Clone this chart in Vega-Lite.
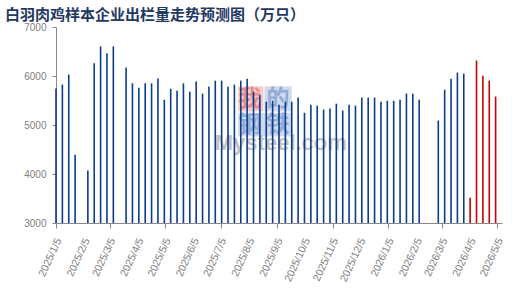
{
  "$schema": "https://vega.github.io/schema/vega-lite/v6.json",
  "width": 446,
  "height": 196,
  "autosize": {"type": "none"},
  "padding": {"left": 56, "top": 27, "right": 20, "bottom": 73},
  "background": "white",
  "config": {"view": {"stroke": null}},
  "title": {
    "text": "白羽肉鸡样本企业出栏量走势预测图（万只）",
    "anchor": "start",
    "frame": "group",
    "font": "Noto Sans CJK SC",
    "fontSize": 15,
    "fontWeight": "bold",
    "color": "#1f3864",
    "dx": -51,
    "offset": -1
  },
  "layer": [
    {
      "data": {"values": [{"x1": "2025-07-24", "x2": "2025-08-21", "y1": 5788, "y2": 5278}]},
      "mark": {"type": "rect", "fill": "#f5cccc", "fillOpacity": 1},
      "encoding": {
        "x": {"field": "x1", "type": "temporal"},
        "x2": {"field": "x2"},
        "y": {"field": "y1", "type": "quantitative"},
        "y2": {"field": "y2"}
      }
    },
    {
      "data": {"values": [{"x1": "2025-08-22", "x2": "2025-09-21", "y1": 5788, "y2": 5278}, {"x1": "2025-07-24", "x2": "2025-09-21", "y1": 5251, "y2": 4767}]},
      "mark": {"type": "rect", "fill": "#cfdaee", "fillOpacity": 1},
      "encoding": {
        "x": {"field": "x1", "type": "temporal"},
        "x2": {"field": "x2"},
        "y": {"field": "y1", "type": "quantitative"},
        "y2": {"field": "y2"}
      }
    },
    {
      "data": {"values": [{"d": "2025-08-06", "v": 5537, "label": "我"}]},
      "mark": {"type": "text", "font": "Noto Sans CJK SC", "fontSize": 23, "fontWeight": "bold", "color": "#e06060", "opacity": 0.6, "align": "center", "baseline": "middle"},
      "encoding": {
        "x": {"field": "d", "type": "temporal"},
        "y": {"field": "v", "type": "quantitative"},
        "text": {"field": "label"}
      }
    },
    {
      "data": {"values": [{"d": "2025-09-06", "v": 5537, "label": "的"}, {"d": "2025-08-06", "v": 5006, "label": "钢"}, {"d": "2025-09-06", "v": 5006, "label": "铁"}]},
      "mark": {"type": "text", "font": "Noto Sans CJK SC", "fontSize": 23, "fontWeight": "bold", "color": "#6a8cc8", "opacity": 0.6, "align": "center", "baseline": "middle"},
      "encoding": {
        "x": {"field": "d", "type": "temporal"},
        "y": {"field": "v", "type": "quantitative"},
        "text": {"field": "label"}
      }
    },
    {
      "data": {"values": [{"d": "2025-09-09", "v": 4640, "label": "Mysteel.com"}]},
      "mark": {"type": "text", "font": "Liberation Sans", "fontSize": 22, "fontWeight": "bold", "color": "#c2c2c2", "align": "center", "baseline": "middle"},
      "encoding": {
        "x": {"field": "d", "type": "temporal"},
        "y": {"field": "v", "type": "quantitative"},
        "text": {"field": "label"}
      }
    },
    {
      "data": {"values": [
        {"date": "2025-01-05", "label": "2025/1/5"},
        {"date": "2025-02-05", "label": "2025/2/5"},
        {"date": "2025-03-05", "label": "2025/3/5"},
        {"date": "2025-04-05", "label": "2025/4/5"},
        {"date": "2025-05-05", "label": "2025/5/5"},
        {"date": "2025-06-05", "label": "2025/6/5"},
        {"date": "2025-07-05", "label": "2025/7/5"},
        {"date": "2025-08-05", "label": "2025/8/5"},
        {"date": "2025-09-05", "label": "2025/9/5"},
        {"date": "2025-10-05", "label": "2025/10/5"},
        {"date": "2025-11-05", "label": "2025/11/5"},
        {"date": "2025-12-05", "label": "2025/12/5"},
        {"date": "2026-01-05", "label": "2026/1/5"},
        {"date": "2026-02-05", "label": "2026/2/5"},
        {"date": "2026-03-05", "label": "2026/3/5"},
        {"date": "2026-04-05", "label": "2026/4/5"},
        {"date": "2026-05-05", "label": "2026/5/5"}
      ]},
      "mark": {"type": "text", "angle": 295, "align": "right", "baseline": "middle", "font": "Liberation Sans", "fontSize": 10.5, "color": "#808080", "xOffset": 3, "yOffset": 16},
      "encoding": {
        "x": {"field": "date", "type": "temporal"},
        "y": {"datum": 3000, "type": "quantitative"},
        "text": {"field": "label"}
      }
    },
    {
      "data": {"values": [
        {"date": "2025-01-05", "value": 5745, "type": "实际"},
        {"date": "2025-01-12", "value": 5825, "type": "实际"},
        {"date": "2025-01-19", "value": 6030, "type": "实际"},
        {"date": "2025-01-26", "value": 4395, "type": "实际"},
        {"date": "2025-02-09", "value": 4070, "type": "实际"},
        {"date": "2025-02-16", "value": 6260, "type": "实际"},
        {"date": "2025-02-23", "value": 6605, "type": "实际"},
        {"date": "2025-03-02", "value": 6465, "type": "实际"},
        {"date": "2025-03-09", "value": 6605, "type": "实际"},
        {"date": "2025-03-23", "value": 6175, "type": "实际"},
        {"date": "2025-03-30", "value": 5850, "type": "实际"},
        {"date": "2025-04-06", "value": 5760, "type": "实际"},
        {"date": "2025-04-13", "value": 5850, "type": "实际"},
        {"date": "2025-04-20", "value": 5850, "type": "实际"},
        {"date": "2025-04-27", "value": 5950, "type": "实际"},
        {"date": "2025-05-04", "value": 5515, "type": "实际"},
        {"date": "2025-05-11", "value": 5740, "type": "实际"},
        {"date": "2025-05-18", "value": 5700, "type": "实际"},
        {"date": "2025-05-25", "value": 5850, "type": "实际"},
        {"date": "2025-06-01", "value": 5680, "type": "实际"},
        {"date": "2025-06-08", "value": 5890, "type": "实际"},
        {"date": "2025-06-15", "value": 5640, "type": "实际"},
        {"date": "2025-06-22", "value": 5785, "type": "实际"},
        {"date": "2025-06-29", "value": 5905, "type": "实际"},
        {"date": "2025-07-06", "value": 5905, "type": "实际"},
        {"date": "2025-07-13", "value": 5780, "type": "实际"},
        {"date": "2025-07-20", "value": 5825, "type": "实际"},
        {"date": "2025-07-27", "value": 5905, "type": "实际"},
        {"date": "2025-08-03", "value": 5945, "type": "实际"},
        {"date": "2025-08-10", "value": 5680, "type": "实际"},
        {"date": "2025-08-17", "value": 5610, "type": "实际"},
        {"date": "2025-08-24", "value": 5475, "type": "实际"},
        {"date": "2025-08-31", "value": 5495, "type": "实际"},
        {"date": "2025-09-07", "value": 5415, "type": "实际"},
        {"date": "2025-09-14", "value": 5475, "type": "实际"},
        {"date": "2025-09-21", "value": 5475, "type": "实际"},
        {"date": "2025-09-28", "value": 5560, "type": "实际"},
        {"date": "2025-10-05", "value": 5250, "type": "实际"},
        {"date": "2025-10-12", "value": 5415, "type": "实际"},
        {"date": "2025-10-19", "value": 5395, "type": "实际"},
        {"date": "2025-10-26", "value": 5315, "type": "实际"},
        {"date": "2025-11-02", "value": 5335, "type": "实际"},
        {"date": "2025-11-09", "value": 5435, "type": "实际"},
        {"date": "2025-11-16", "value": 5295, "type": "实际"},
        {"date": "2025-11-23", "value": 5415, "type": "实际"},
        {"date": "2025-11-30", "value": 5395, "type": "实际"},
        {"date": "2025-12-07", "value": 5560, "type": "实际"},
        {"date": "2025-12-14", "value": 5560, "type": "实际"},
        {"date": "2025-12-21", "value": 5560, "type": "实际"},
        {"date": "2025-12-28", "value": 5475, "type": "实际"},
        {"date": "2026-01-04", "value": 5495, "type": "实际"},
        {"date": "2026-01-11", "value": 5495, "type": "实际"},
        {"date": "2026-01-18", "value": 5515, "type": "实际"},
        {"date": "2026-01-25", "value": 5640, "type": "实际"},
        {"date": "2026-02-01", "value": 5640, "type": "实际"},
        {"date": "2026-02-08", "value": 5515, "type": "实际"},
        {"date": "2026-03-01", "value": 5090, "type": "实际"},
        {"date": "2026-03-08", "value": 5720, "type": "实际"},
        {"date": "2026-03-15", "value": 5945, "type": "实际"},
        {"date": "2026-03-22", "value": 6070, "type": "实际"},
        {"date": "2026-03-29", "value": 6050, "type": "实际"},
        {"date": "2026-04-05", "value": 3515, "type": "预测"},
        {"date": "2026-04-12", "value": 6315, "type": "预测"},
        {"date": "2026-04-19", "value": 6005, "type": "预测"},
        {"date": "2026-04-26", "value": 5905, "type": "预测"},
        {"date": "2026-05-03", "value": 5580, "type": "预测"}
      ]},
      "mark": {"type": "rule", "strokeWidth": 1.6},
      "encoding": {
        "x": {
          "field": "date",
          "type": "temporal",
          "scale": {"type": "utc", "domain": [1736035200000, 1778371200000]},
          "axis": {
            "title": null,
            "values": [1736035200000, 1738713600000, 1741132800000, 1743811200000, 1746403200000, 1749081600000, 1751673600000, 1754352000000, 1757030400000, 1759622400000, 1762300800000, 1764892800000, 1767571200000, 1770249600000, 1772668800000, 1775347200000, 1777939200000],
            "labels": false,
            "domainColor": "#888888",
            "tickColor": "#888888",
            "tickSize": 5,
            "grid": false
          }
        },
        "y": {
          "field": "value",
          "type": "quantitative",
          "scale": {"domain": [3000, 7000], "zero": false, "nice": false},
          "axis": {
            "title": null,
            "values": [3000, 3500, 4000, 4500, 5000, 5500, 6000, 6500, 7000],
            "format": "d",
            "labelFont": "Liberation Sans",
            "labelFontSize": 10,
            "labelColor": "#808080",
            "labelPadding": 6,
            "domainColor": "#888888",
            "tickColor": "#888888",
            "tickSize": 4,
            "grid": false
          }
        },
        "y2": {"datum": 3000},
        "color": {
          "field": "type",
          "type": "nominal",
          "scale": {"domain": ["实际", "预测"], "range": ["#0b3c8c", "#cc0000"]},
          "legend": null
        }
      }
    }
  ]
}
